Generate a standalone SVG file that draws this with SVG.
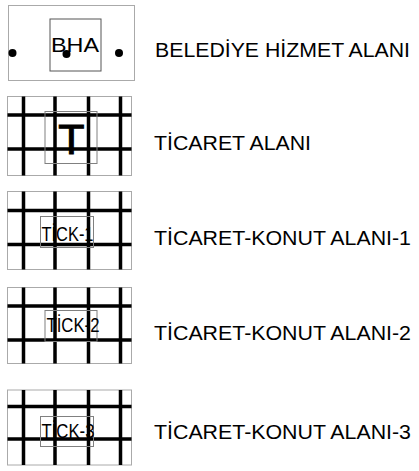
<svg xmlns="http://www.w3.org/2000/svg" width="419" height="471" viewBox="0 0 419 471">
<style>
.frame{fill:#fff;stroke:#aaa;stroke-width:1}
.inner{fill:none;stroke:#808080;stroke-width:1}
.grid{stroke:#000;stroke-width:3.5;fill:none}
.lbl{font-family:"Liberation Sans",Arial,sans-serif;font-size:20px;fill:#000}
.sym{font-family:"Liberation Sans",Arial,sans-serif;fill:#000}
</style>
<rect width="419" height="471" fill="#fff"/>
<g id="bha">
<rect class="frame" x="8.5" y="5.5" width="126" height="75"/>
<rect x="50" y="19" width="51" height="52" fill="none" stroke="#555" stroke-width="1"/>
<text class="sym" x="51" y="52" font-size="21" textLength="48" lengthAdjust="spacingAndGlyphs">BHA</text>
<circle cx="12.5" cy="53" r="4"/>
<circle cx="66.5" cy="54" r="4"/>
<circle cx="119" cy="53" r="4"/>
<text class="lbl" x="155" y="57" textLength="255" lengthAdjust="spacingAndGlyphs">BELEDİYE HİZMET ALANI</text>
</g>
<g id="t">
<rect class="frame" x="7.5" y="96.5" width="124" height="79"/>
<path class="grid" d="M23.5 96.5V175.5M55 96.5V175.5M88.5 96.5V175.5M120.5 96.5V175.5M7.5 115H131.5M7.5 149H131.5"/>
<rect class="inner" x="45" y="111.5" width="52" height="52"/>
<text class="sym" x="71.5" y="154" font-size="43" text-anchor="middle" stroke="#000" stroke-width="1">T</text>
<text class="lbl" x="154" y="149.5" textLength="157" lengthAdjust="spacingAndGlyphs">TİCARET ALANI</text>
</g>
<g id="tick1">
<rect class="frame" x="7.5" y="191.5" width="124" height="78"/>
<path class="grid" d="M23.5 191.5V269.5M55 191.5V269.5M88.5 191.5V269.5M120.5 191.5V269.5M7.5 210.5H131.5M7.5 244.5H131.5"/>
<rect class="inner" x="40.5" y="216.5" width="53" height="31"/>
<text class="sym" x="41.5" y="241" font-size="21" textLength="52" lengthAdjust="spacingAndGlyphs">TİCK-1</text>
<text class="lbl" x="154" y="244.5" textLength="257" lengthAdjust="spacingAndGlyphs">TİCARET-KONUT ALANI-1</text>
</g>
<g id="tick2">
<rect class="frame" x="7.5" y="287.5" width="124" height="76"/>
<path class="grid" d="M23.5 287.5V363.5M55 287.5V363.5M88.5 287.5V363.5M120.5 287.5V363.5M7.5 306H131.5M7.5 340H131.5"/>
<rect class="inner" x="45" y="310.5" width="52" height="31"/>
<text class="sym" x="46.5" y="332" font-size="21" textLength="53" lengthAdjust="spacingAndGlyphs">TİCK-2</text>
<text class="lbl" x="154" y="339.5" textLength="257" lengthAdjust="spacingAndGlyphs">TİCARET-KONUT ALANI-2</text>
</g>
<g id="tick3">
<rect class="frame" x="7.5" y="390" width="124" height="75"/>
<path class="grid" d="M23.5 390V465M55 390V465M88.5 390V465M120.5 390V465M7.5 406.5H131.5M7.5 439H131.5"/>
<rect class="inner" x="40.5" y="416.5" width="53" height="30"/>
<text class="sym" x="41.5" y="437.5" font-size="21" textLength="53" lengthAdjust="spacingAndGlyphs">TİCK-3</text>
<text class="lbl" x="154" y="438.5" textLength="257" lengthAdjust="spacingAndGlyphs">TİCARET-KONUT ALANI-3</text>
</g>
<g id="connectors"></g>
</svg>
